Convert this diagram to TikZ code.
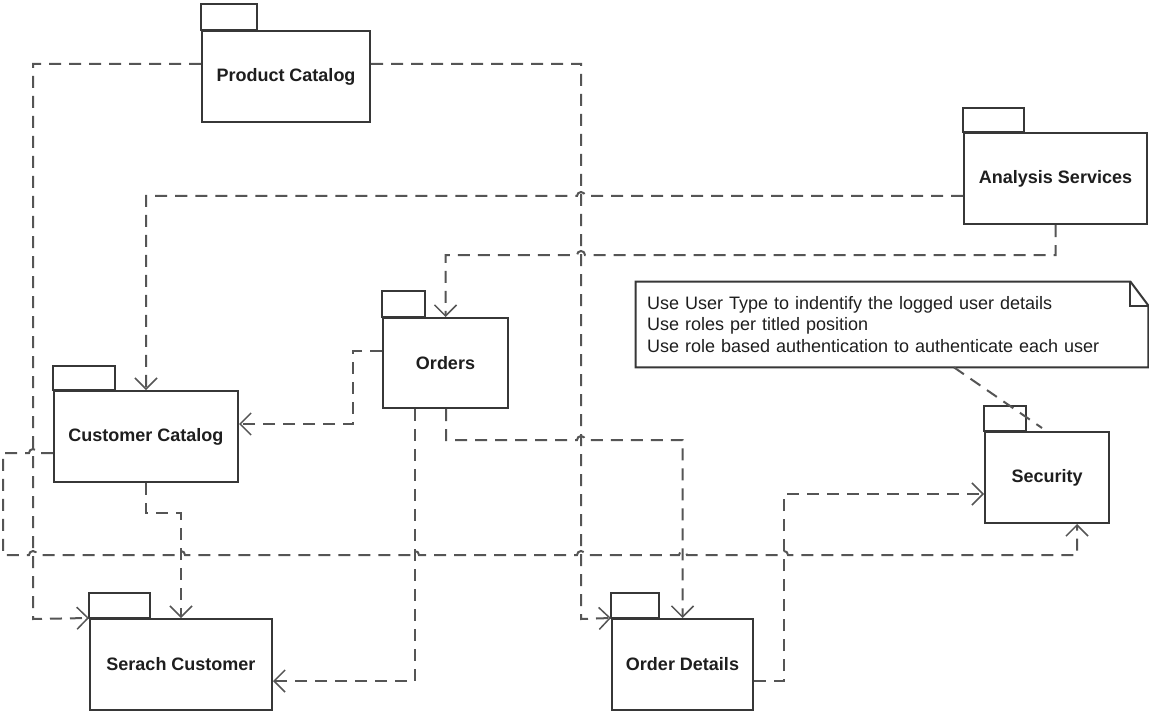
\documentclass[tikz,border=0pt]{standalone}
\usepackage{fontspec}
\setmainfont{Liberation Sans}
\usetikzlibrary{arrows.meta}

\definecolor{linec}{RGB}{85,85,85}
\definecolor{boxc}{RGB}{55,55,55}
\definecolor{txt}{RGB}{30,30,30}

\begin{document}
\begin{tikzpicture}[x=0.5pt, y=-0.5pt,
  pkg/.style={draw=boxc, line width=1pt, fill=white, text=txt, inner sep=0pt,
    font=\bfseries\fontsize{9}{11}\selectfont},
  pkgtab/.style={draw=boxc, line width=1pt, fill=white},
  dep/.style={draw=linec, line width=1pt, dash pattern=on 6pt off 4pt,
    -{Straight Barb[length=5.5pt, width=11pt, line width=0.75pt]}},
  anchorline/.style={draw=linec, line width=1pt, dash pattern=on 6pt off 4pt},
  notetext/.style={inner xsep=5.5pt, inner ysep=0pt, text width=245pt, minimum height=42.5pt,
    align=left, text=txt, font=\fontsize{9}{10.75}\selectfont},
  noteline/.style={draw=boxc, line width=1pt, line join=miter}
]
\useasboundingbox (0,0) rectangle (1149,711);
\fill[white] (0,0) rectangle (1149,711);

% packages: body node plus folder tab
\node[pkg, minimum width=84pt, minimum height=45.5pt] (pc) at (286,76.5) {Product Catalog};
\draw[pkgtab] (pc.north west) rectangle ++(56,-26);

\node[pkg, minimum width=91.5pt, minimum height=45.5pt] (as) at (1055.5,178.5) {Analysis Services};
\draw[pkgtab] (as.north west) rectangle ++(61,-24);

\node[pkg, minimum width=62.5pt, minimum height=45pt] (ord) at (445.5,363) {Orders};
\draw[pkgtab] (ord.north west) rectangle ++(43,-26);

\node[pkg, minimum width=92pt, minimum height=45.5pt] (cc) at (146,436.5) {Customer Catalog};
\draw[pkgtab] (cc.north west) rectangle ++(62,-24);

\node[pkg, minimum width=91pt, minimum height=45.5pt] (sc) at (181,664.5) {Serach Customer};
\draw[pkgtab] (sc.north west) rectangle ++(61,-25);

\node[pkg, minimum width=70.5pt, minimum height=45.5pt] (od) at (682.5,664.5) {Order Details};
\draw[pkgtab] (od.north west) rectangle ++(48,-25);

\node[pkg, minimum width=62pt, minimum height=45.5pt] (sec) at (1047,477.5) {Security};
\draw[pkgtab] (sec.north west) rectangle ++(42,-25);

% note with folded corner
\node[notetext] (note) at (892,324.5)
  {Use User Type to indentify the logged user details\\
   Use roles per titled position\\
   Use role based authentication to authenticate each user};
\draw[noteline] (note.south west) -- (note.north west) -- ([xshift=-9pt]note.north east)
  -- ([yshift=-12pt]note.north east) -- (note.south east) -- cycle;
\draw[noteline] ([xshift=-9pt]note.north east) -- ([xshift=-9pt,yshift=-12pt]note.north east)
  -- ([yshift=-12pt]note.north east);
\coordinate (secpin) at (1042,428);

% dependencies
\draw[dep] (pc.west |- 0,64) -- (33,64) -- (33,619) -- (sc.north west);
\draw[dep] (pc.east |- 0,64) -- (581,64) -- (581,619) -- (od.north west);
\draw[dep] (as.west |- 0,196) -- (585,196) arc[start angle=0, end angle=180, radius=2pt]
  -- (cc.north |- 0,196) -- (cc.north);
\draw[dep] (as.south) -- (as.south |- 0,255) -- (585,255) arc[start angle=0, end angle=180, radius=2pt]
  -- (ord.north |- 0,255) -- (ord.north);
\draw[dep] (ord.west |- 0,351) -- (353,351) -- (353,424) -- (cc.east |- 0,424);
\draw[dep] (ord.south -| 415,0) -- (415,681) -- (sc.east |- 0,681);
\draw[dep] (ord.south -| 446,0) -- (446,440) -- (577,440) arc[start angle=180, end angle=0, radius=2pt]
  -- (od.north |- 0,440) -- (od.north);
\draw[dep] (cc.south) -- (146,513) -- (181,513) -- (sc.north);
\draw[dep] (cc.west |- 0,453) -- (37,453) arc[start angle=0, end angle=180, radius=2pt]
  -- (3,453) -- (3,555)
  -- (29,555) arc[start angle=180, end angle=0, radius=2pt]
  -- (177,555) arc[start angle=180, end angle=0, radius=2pt]
  -- (411,555) arc[start angle=180, end angle=0, radius=2pt]
  -- (577,555) arc[start angle=180, end angle=0, radius=2pt]
  -- (679,555) arc[start angle=180, end angle=0, radius=2pt]
  -- (780,555) arc[start angle=180, end angle=0, radius=2pt]
  -- (1077,555) -- (sec.south -| 1077,0);
\draw[dep] (od.east |- 0,681) -- (784,681) -- (784,494) -- (sec.west |- 0,494);
\draw[anchorline] (note.south -| 954,0) -- (secpin);
\end{tikzpicture}
\end{document}
